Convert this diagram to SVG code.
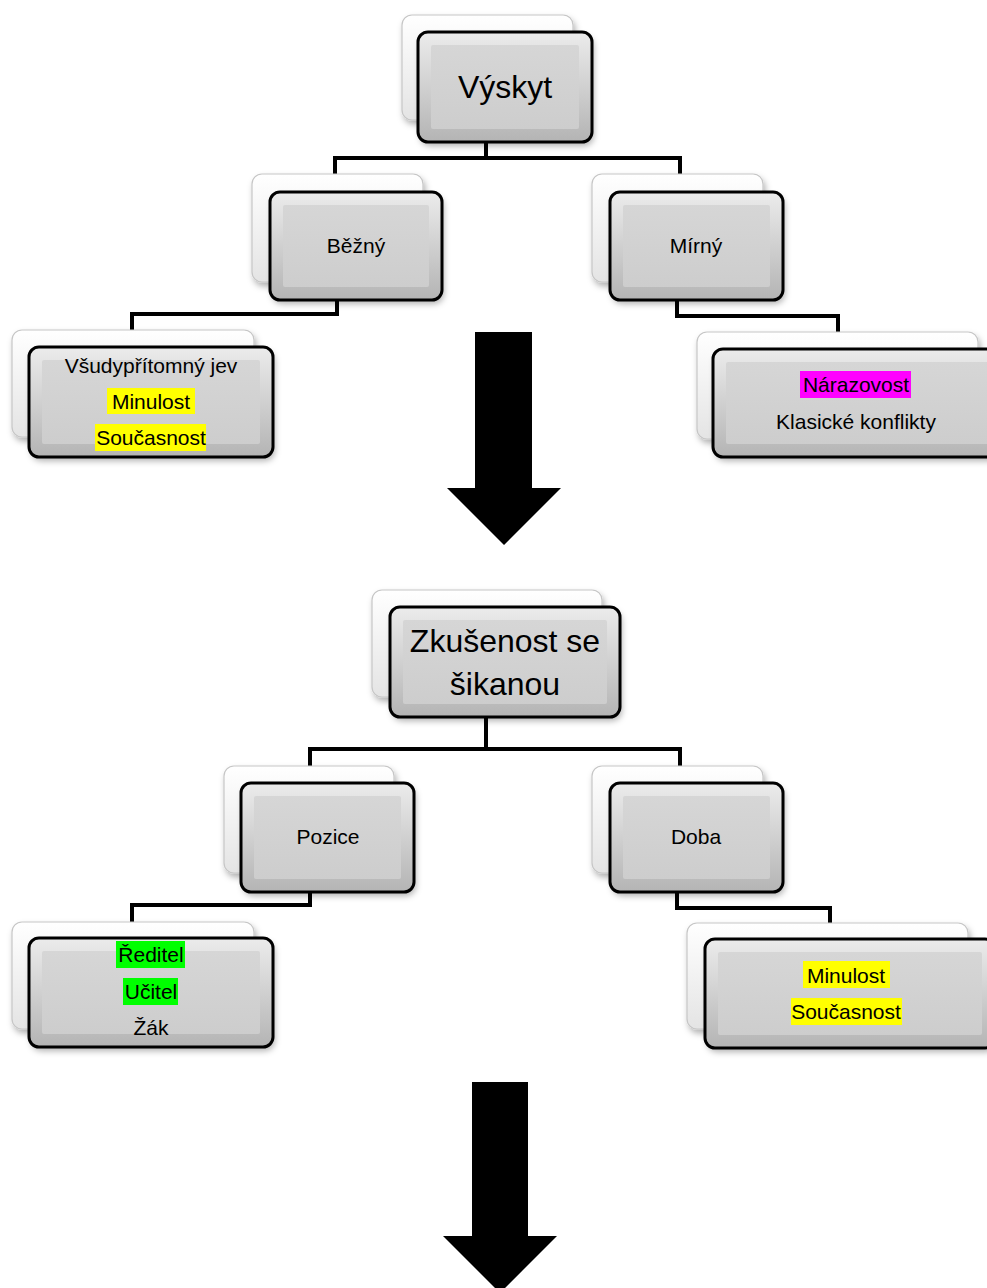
<svg xmlns="http://www.w3.org/2000/svg" width="987" height="1288" viewBox="0 0 987 1288">
<defs>
<linearGradient id="backG" x1="0" y1="0" x2="0" y2="1">
<stop offset="0" stop-color="#ffffff"/><stop offset="1" stop-color="#e4e4e4"/>
</linearGradient>
<linearGradient id="bevelG" x1="0" y1="0" x2="0" y2="1">
<stop offset="0" stop-color="#ececec"/><stop offset="0.5" stop-color="#d0d0d0"/><stop offset="1" stop-color="#b4b4b4"/>
</linearGradient>
<linearGradient id="faceG" x1="0" y1="0" x2="0" y2="1">
<stop offset="0" stop-color="#d6d6d6"/><stop offset="1" stop-color="#cdcdcd"/>
</linearGradient>
<filter id="sh" x="-10%" y="-10%" width="130%" height="140%">
<feDropShadow dx="2" dy="4" stdDeviation="3" flood-color="#000" flood-opacity="0.3"/>
</filter>
</defs>
<style>
.back{fill:url(#backG);stroke:#c6c6c6;stroke-width:1.2;filter:url(#sh)}
.front{fill:url(#bevelG);stroke:none;filter:url(#sh)}
.face{fill:url(#faceG)}
.edge{fill:none;stroke:#000;stroke-width:3}
.conn{fill:none;stroke:#000;stroke-width:4;stroke-linejoin:miter;stroke-linecap:square}
.big{font-family:"Liberation Sans",Arial,sans-serif;font-size:32px;fill:#000;text-anchor:middle}
.sm{font-family:"Liberation Sans",Arial,sans-serif;font-size:21px;fill:#000;text-anchor:middle}
.yel{fill:#ffff00}.grn{fill:#00ff00}.mag{fill:#ff00ff}
</style>

<g id="connectors">
<path class="conn" d="M335,176 V158 H680 V176 M486,142 V158"/>
<path class="conn" d="M337,300 V314 H132 V332"/>
<path class="conn" d="M677,300 V316 H838 V334"/>
<path class="conn" d="M310,768 V749 H680 V768 M486,717 V749"/>
<path class="conn" d="M310,892 V905 H132 V922"/>
<path class="conn" d="M677,892 V908 H830 V925"/>
</g>

<g id="n-vyskyt">
<rect class="back" x="402" y="15" width="171" height="105" rx="10"/>
<rect class="front" x="418" y="32" width="174" height="110" rx="10"/>
<rect class="face" x="431" y="45" width="148" height="84" rx="2"/>
<rect class="edge" x="418" y="32" width="174" height="110" rx="10"/>
<text class="big" x="505" y="98">Výskyt</text>
</g>

<g id="n-bezny">
<rect class="back" x="252" y="174" width="171" height="108" rx="10"/>
<rect class="front" x="270" y="192" width="172" height="108" rx="10"/>
<rect class="face" x="283" y="205" width="146" height="82" rx="2"/>
<rect class="edge" x="270" y="192" width="172" height="108" rx="10"/>
<text class="sm" x="356" y="253">Běžný</text>
</g>

<g id="n-mirny">
<rect class="back" x="592" y="174" width="171" height="108" rx="10"/>
<rect class="front" x="610" y="192" width="173" height="108" rx="10"/>
<rect class="face" x="623" y="205" width="147" height="82" rx="2"/>
<rect class="edge" x="610" y="192" width="173" height="108" rx="10"/>
<text class="sm" x="696" y="253">Mírný</text>
</g>

<g id="n-vsudy">
<rect class="back" x="12" y="330" width="242" height="107" rx="10"/>
<rect class="front" x="29" y="347" width="244" height="110" rx="10"/>
<rect class="face" x="42" y="360" width="218" height="84" rx="2"/>
<rect class="edge" x="29" y="347" width="244" height="110" rx="10"/>
<text class="sm" x="151" y="373">Všudypřítomný jev</text>
<rect class="yel" x="107" y="388" width="88" height="26"/>
<text class="sm" x="151" y="409">Minulost</text>
<rect class="yel" x="95" y="424" width="111" height="27"/>
<text class="sm" x="151" y="445">Současnost</text>
</g>

<g id="n-narazovost">
<rect class="back" x="697" y="332" width="281" height="107" rx="10"/>
<rect class="front" x="713" y="349" width="290" height="108" rx="10"/>
<rect class="face" x="726" y="362" width="264" height="82" rx="2"/>
<rect class="edge" x="713" y="349" width="290" height="108" rx="10"/>
<rect class="mag" x="800" y="371" width="111" height="27"/>
<text class="sm" x="856" y="392">Nárazovost</text>
<text class="sm" x="856" y="429">Klasické konflikty</text>
</g>

<g id="arrow1">
<polygon points="475,332 532,332 532,488 561,488 504,545 447,488 475,488" fill="#000"/>
</g>

<g id="n-zkusenost">
<rect class="back" x="372" y="590" width="230" height="107" rx="10"/>
<rect class="front" x="390" y="607" width="230" height="110" rx="10"/>
<rect class="face" x="403" y="620" width="204" height="84" rx="2"/>
<rect class="edge" x="390" y="607" width="230" height="110" rx="10"/>
<text class="big" x="505" y="652">Zkušenost se</text>
<text class="big" x="505" y="695">šikanou</text>
</g>

<g id="n-pozice">
<rect class="back" x="224" y="766" width="170" height="107" rx="10"/>
<rect class="front" x="241" y="783" width="173" height="109" rx="10"/>
<rect class="face" x="254" y="796" width="147" height="83" rx="2"/>
<rect class="edge" x="241" y="783" width="173" height="109" rx="10"/>
<text class="sm" x="328" y="844">Pozice</text>
</g>

<g id="n-doba">
<rect class="back" x="592" y="766" width="171" height="107" rx="10"/>
<rect class="front" x="610" y="783" width="173" height="109" rx="10"/>
<rect class="face" x="623" y="796" width="147" height="83" rx="2"/>
<rect class="edge" x="610" y="783" width="173" height="109" rx="10"/>
<text class="sm" x="696" y="844">Doba</text>
</g>

<g id="n-reditel">
<rect class="back" x="12" y="922" width="242" height="107" rx="10"/>
<rect class="front" x="29" y="938" width="244" height="109" rx="10"/>
<rect class="face" x="42" y="951" width="218" height="83" rx="2"/>
<rect class="edge" x="29" y="938" width="244" height="109" rx="10"/>
<rect class="grn" x="116" y="941" width="69" height="27"/>
<text class="sm" x="151" y="962">Ředitel</text>
<rect class="grn" x="123" y="978" width="55" height="27"/>
<text class="sm" x="151" y="999">Učitel</text>
<text class="sm" x="151" y="1035">Žák</text>
</g>

<g id="n-doba-child">
<rect class="back" x="687" y="923" width="281" height="106" rx="10"/>
<rect class="front" x="705" y="939" width="290" height="109" rx="10"/>
<rect class="face" x="718" y="952" width="264" height="83" rx="2"/>
<rect class="edge" x="705" y="939" width="290" height="109" rx="10"/>
<rect class="yel" x="803" y="961" width="87" height="27"/>
<text class="sm" x="846" y="983">Minulost</text>
<rect class="yel" x="791" y="998" width="111" height="27"/>
<text class="sm" x="846" y="1019">Současnost</text>
</g>

<g id="arrow2">
<polygon points="472,1082 528,1082 528,1236 557,1236 500,1293 443,1236 472,1236" fill="#000"/>
</g>
</svg>
